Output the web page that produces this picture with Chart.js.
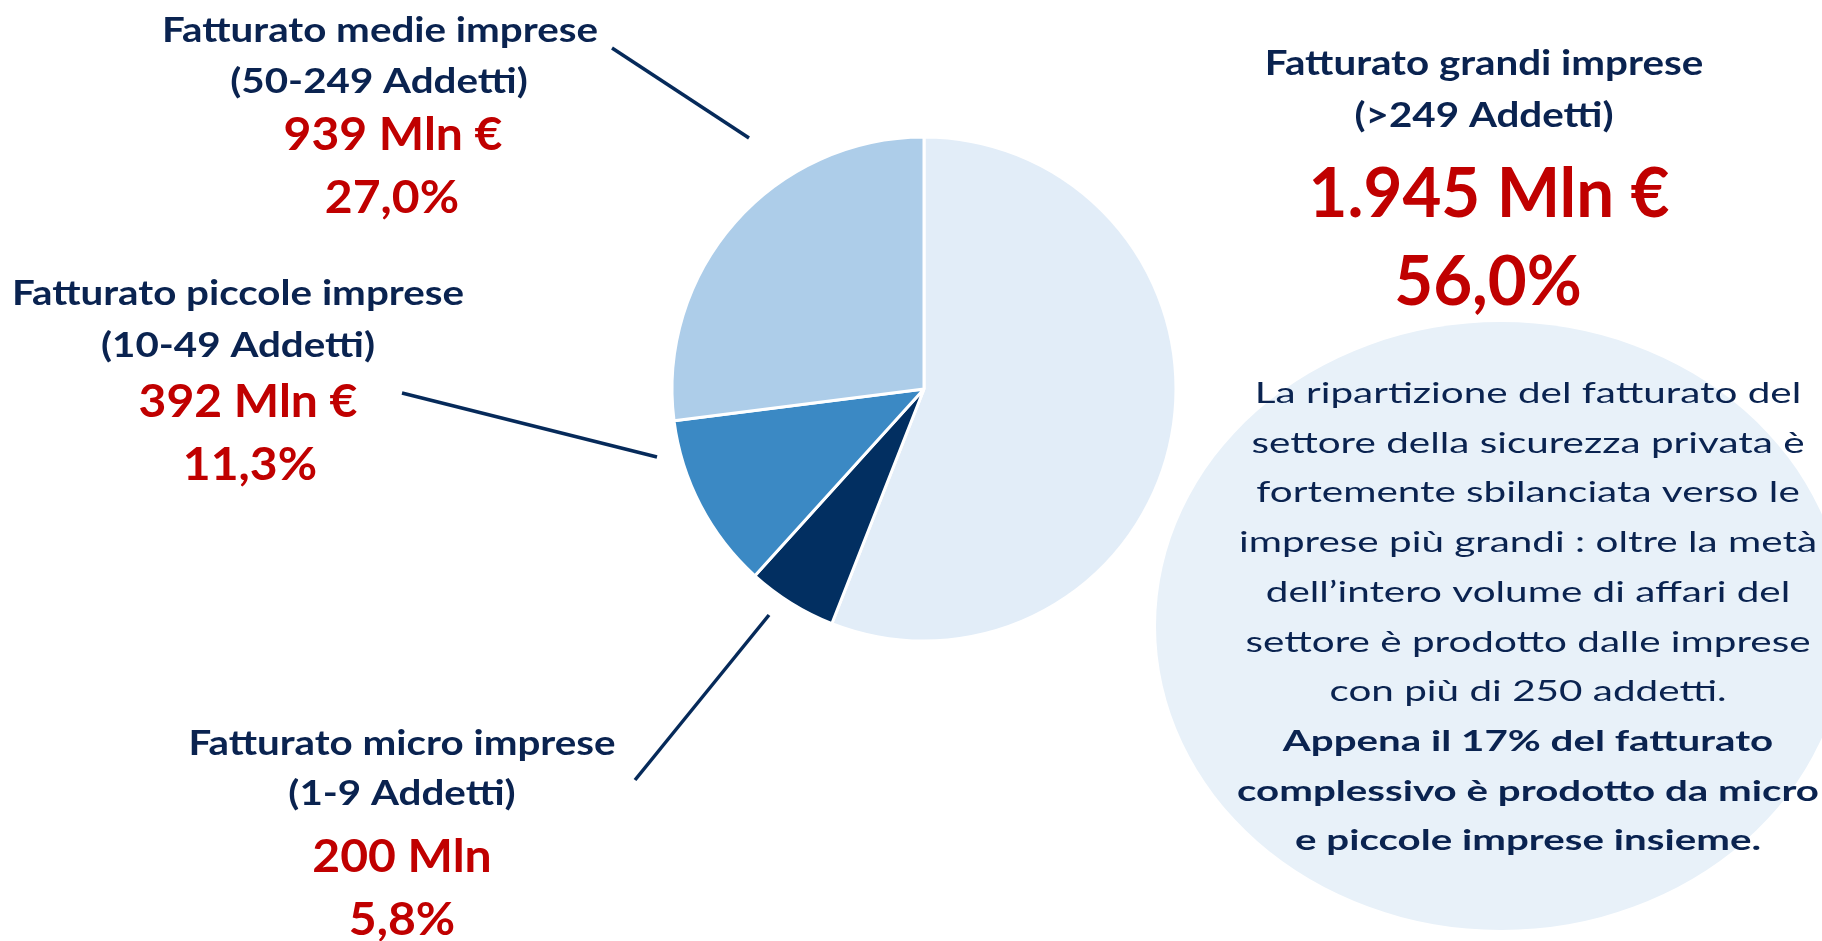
<!DOCTYPE html>
<html>
<head>
<meta charset="utf-8">
<script src="https://cdn.jsdelivr.net/npm/chart.js@4.4.1/dist/chart.umd.min.js"></script>
<style>
  html, body { margin: 0; padding: 0; background: #ffffff; }
  #wrap { width: 1822px; height: 941px; position: relative; }
</style>
</head>
<body>
<div id="wrap"><canvas id="c"></canvas></div>
<script>
// ---- DATA ----
const categories = ["Fatturato grandi imprese", "Fatturato micro imprese", "Fatturato piccole imprese", "Fatturato medie imprese"];
const ranges = ["(>249 Addetti)", "(1-9 Addetti)", "(10-49 Addetti)", "(50-249 Addetti)"];
const values = [1945, 200, 392, 939];            // Mln €
const valueUnits = [" Mln €", " Mln", " Mln €", " Mln €"];
const percents = [56.0, 5.8, 11.3, 27.0];
const sliceColors = ["#E2EDF8", "#022F61", "#3B89C4", "#ADCDE9"];
const noteLines = [
  "La ripartizione del fatturato del",
  "settore della sicurezza privata è",
  "fortemente sbilanciata verso le",
  "imprese più grandi : oltre la metà",
  "dell’intero volume di affari del",
  "settore è prodotto dalle imprese",
  "con più di 250 addetti."
];
const noteBoldLines = [
  "Appena il 17% del fatturato",
  "complessivo è prodotto da micro",
  "e piccole imprese insieme."
];

// ---- LAYOUT ----
const NAVY = "#0A2350";
const RED = "#C00000";
const FONT = "Lato, 'Open Sans', sans-serif";
const labelLayout = [
  { x: [1484, 1484, 1489, 1488], y: [75, 127, 217, 305], big: true },
  { x: [402, 402, 402, 402], y: [755, 805, 872, 935] },
  { x: [238, 238, 248, 250], y: [305, 357, 417, 480] },
  { x: [380, 379, 393, 392], y: [42, 93, 150, 213] }
];
const leaders = [
  null,
  [635, 780, 769, 615],
  [402, 393, 657, 457],
  [612, 48, 749, 138]
];

function fmtNum(v) {
  return v.toLocaleString("it-IT");
}
function fmtPct(p) {
  return p.toFixed(1).replace(".", ",") + "%";
}

const styles = {
  title: { font: "bold 35px " + FONT, ref: "Fatturato medie imprese", w: 436 },
  value: { font: "bold 46px " + FONT, ref: "939 Mln €", w: 219 },
  big:   { font: "bold 68px " + FONT, ref: "1.945 Mln €", w: 361 },
  note:  { font: "28px " + FONT, ref: "imprese più grandi : oltre la metà", w: 578 },
  noteB: { font: "bold 28px " + FONT, ref: "complessivo è prodotto da micro", w: 582 }
};

function sx(ctx, st) {
  ctx.save();
  ctx.font = st.font;
  const m = ctx.measureText(st.ref).width;
  ctx.restore();
  return st.w / m;
}

function drawText(ctx, text, x, y, st, color, scale) {
  ctx.save();
  ctx.font = st.font;
  ctx.fillStyle = color;
  ctx.textAlign = "center";
  ctx.textBaseline = "alphabetic";
  ctx.translate(x, y);
  ctx.scale(scale, 1);
  ctx.fillText(text, 0, 0);
  ctx.restore();
}

const backdrop = {
  id: "backdrop",
  beforeDraw(chart) {
    const ctx = chart.ctx;
    ctx.save();
    ctx.fillStyle = "#E8F1F9";
    ctx.beginPath();
    ctx.ellipse(1501, 626, 345, 304, 0, 0, Math.PI * 2);
    ctx.fill();
    ctx.restore();
  }
};

const annotations = {
  id: "annotations",
  afterDraw(chart) {
    const ctx = chart.ctx;
    const s = {};
    for (const k in styles) s[k] = sx(ctx, styles[k]);

    ctx.save();
    ctx.strokeStyle = "#062A5A";
    ctx.lineWidth = 3.5;
    leaders.forEach(l => {
      if (!l) return;
      ctx.beginPath();
      ctx.moveTo(l[0], l[1]);
      ctx.lineTo(l[2], l[3]);
      ctx.stroke();
    });
    ctx.restore();

    categories.forEach((cat, i) => {
      const L = labelLayout[i];
      const vs = L.big ? "big" : "value";
      drawText(ctx, cat, L.x[0], L.y[0], styles.title, NAVY, s.title);
      drawText(ctx, ranges[i], L.x[1], L.y[1], styles.title, NAVY, s.title);
      drawText(ctx, fmtNum(values[i]) + valueUnits[i], L.x[2], L.y[2], styles[vs], RED, s[vs]);
      drawText(ctx, fmtPct(percents[i]), L.x[3], L.y[3], styles[vs], RED, s[vs]);
    });

    const nx = 1528, ny0 = 403, dy = 49.7;
    noteLines.forEach((t, i) => drawText(ctx, t, nx, ny0 + i * dy, styles.note, NAVY, s.note));
    noteBoldLines.forEach((t, j) => drawText(ctx, t, nx, ny0 + (noteLines.length + j) * dy, styles.noteB, NAVY, s.noteB));
  }
};

new Chart(document.getElementById("c"), {
  type: "pie",
  data: {
    labels: categories,
    datasets: [{
      data: values,
      backgroundColor: sliceColors,
      borderColor: "#ffffff",
      borderWidth: 3
    }]
  },
  options: {
    responsive: true,
    maintainAspectRatio: false,
    animation: false,
    radius: 252,
    rotation: 0,
    layout: { padding: { left: 672, right: 646, top: 137, bottom: 300 } },
    plugins: {
      legend: { display: false },
      tooltip: { enabled: false },
      title: { display: false }
    }
  },
  plugins: [backdrop, annotations]
});
</script>
</body>
</html>
